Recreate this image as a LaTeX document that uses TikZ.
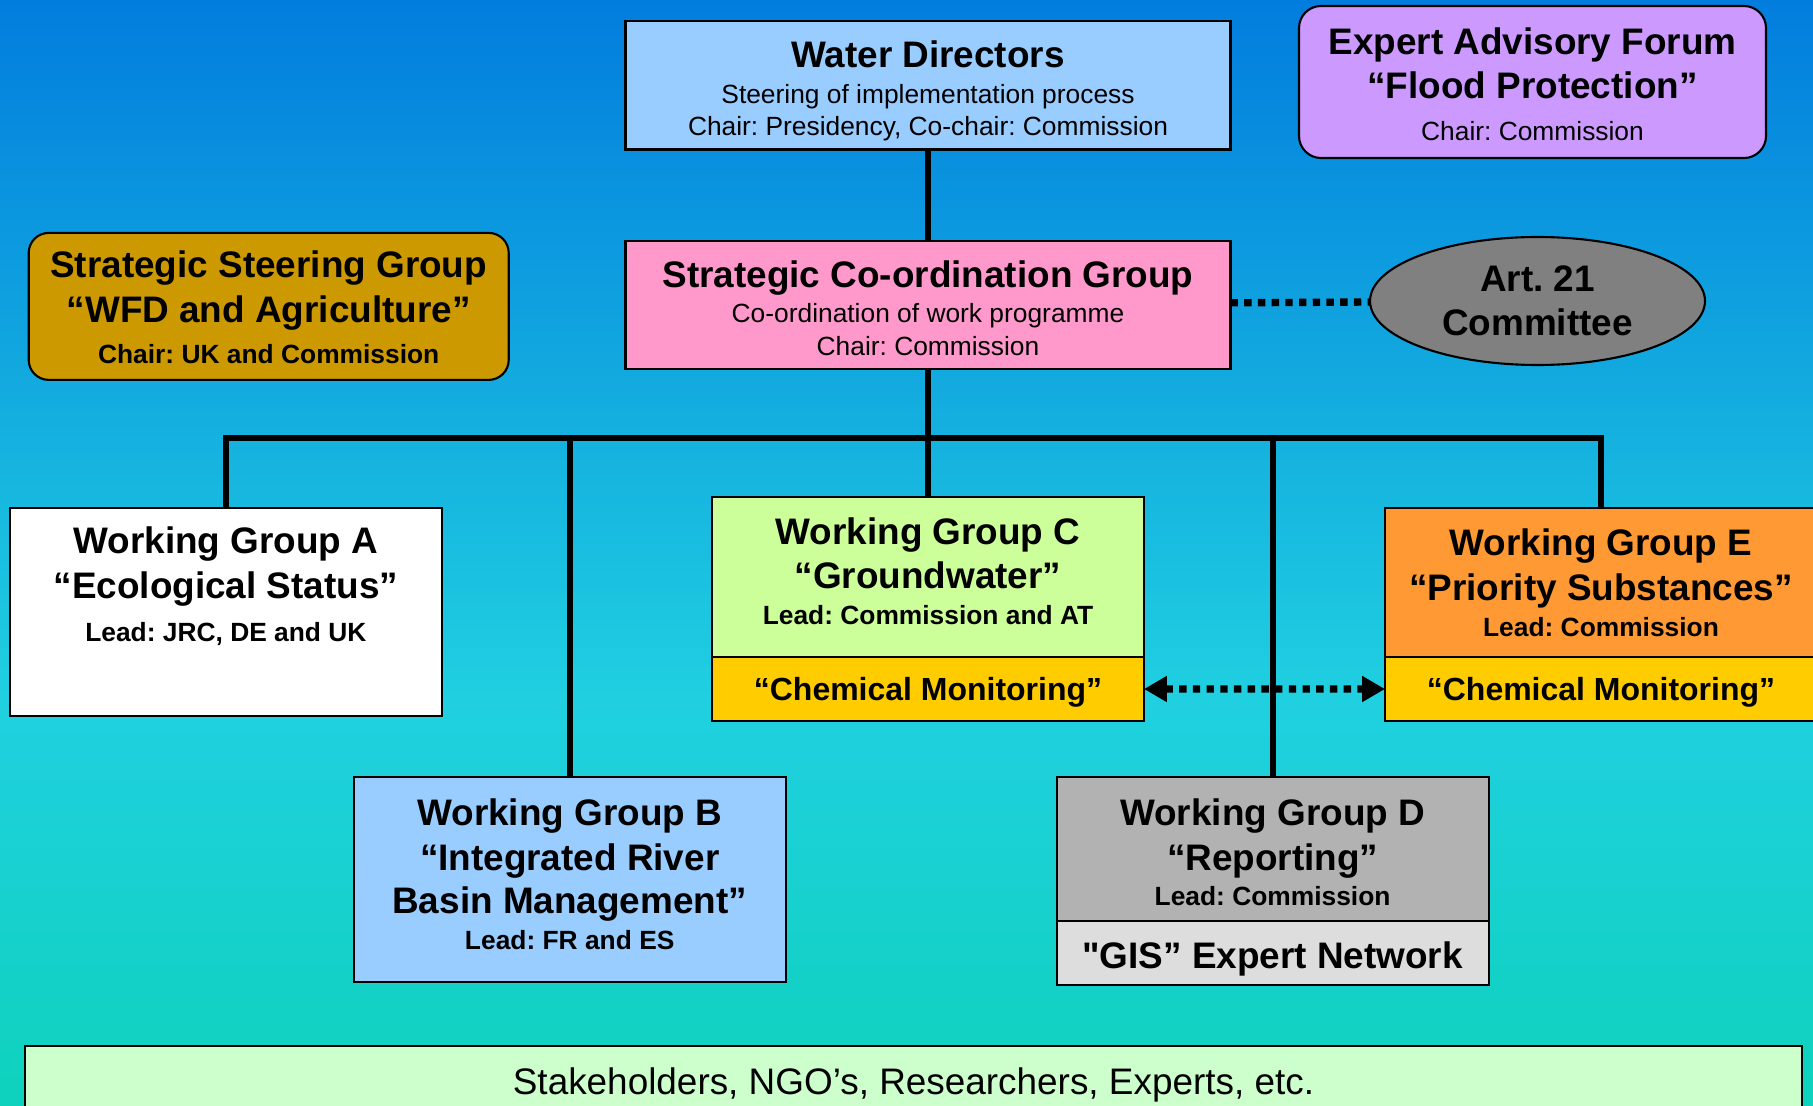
\documentclass[tikz,border=0pt]{standalone}
\usepackage{fontspec}
\setmainfont{Liberation Sans}[Ligatures=TeXOff]
\usetikzlibrary{calc,positioning,shapes.geometric,arrows.meta}
\frenchspacing

\definecolor{bgtop}{RGB}{2,125,222}
\definecolor{bgmid}{RGB}{32,208,224}
\definecolor{bgbottom}{RGB}{14,210,188}
\definecolor{wdblue}{HTML}{99CCFF}
\definecolor{scgpink}{HTML}{FF99CC}
\definecolor{ssggold}{HTML}{CC9900}
\definecolor{eafviolet}{HTML}{CC99FF}
\definecolor{artgray}{HTML}{808080}
\definecolor{wgcgreen}{HTML}{CCFF99}
\definecolor{monyellow}{HTML}{FFCC00}
\definecolor{wgdgray}{HTML}{B2B2B2}
\definecolor{gisgray}{HTML}{DDDDDD}
\definecolor{wgeorange}{HTML}{FF9933}
\definecolor{stkgreen}{HTML}{CCFFCC}

\newcommand{\boxtitle}{\fontsize{10.5pt}{12.8pt}\selectfont\bfseries}
\newcommand{\boxnote}{\fontsize{7.5pt}{9.2pt}\selectfont\mdseries}
\newcommand{\monfont}{\fontsize{9.1pt}{11pt}\selectfont\bfseries}
\newcommand{\stkfont}{\fontsize{10.5pt}{12.8pt}\selectfont}
% strut that pushes the text of a box down a little
\newcommand{\padtop}[1]{\rule{0pt}{#1}}

\tikzset{
  box/.style={draw=black, line width=0.6pt, outer sep=0pt, inner sep=2pt, align=center, font=\boxtitle},
  wgbox/.style={box, minimum width=4.32cm},
  monbox/.style={wgbox, minimum height=0.64cm, font=\monfont},
  link/.style={line width=1.7pt},
  dotlink/.style={line width=2.1pt, dash pattern=on 2.1pt off 1.8pt},
  tip/.tip={Triangle[length=6.5pt,width=7pt]}
}

\begin{document}
\begin{tikzpicture}
% page and background
\useasboundingbox (0,0) rectangle (18.13,-11.06);
\clip (0,0) rectangle (18.13,-11.06);
\shade[top color=bgtop, bottom color=bgmid] (0,0) rectangle (18.13,-7.01);
\shade[top color=bgmid, bottom color=bgbottom] (0,-7) rectangle (18.13,-11.06);
% top level
\node[box, fill=wdblue, minimum width=6.05cm, minimum height=1.285cm] (WD) at (9.28,-0.853)
  {\padtop{10.8pt}Water Directors\\[-2.7pt]{\boxnote Steering of implementation process}\\[-3.6pt]{\boxnote Chair: Presidency, Co-chair: Commission}};
\node[box, fill=scgpink, minimum width=6.05cm, minimum height=1.28cm] (SCG) at (9.28,-3.046)
  {\padtop{9.5pt}Strategic Co-ordination Group\\[-2.7pt]{\boxnote Co-ordination of work programme}\\[-3.5pt]{\boxnote Chair: Commission}};
\node[box, fill=ssggold, rounded corners=0.2cm, minimum width=4.8cm, minimum height=1.47cm] (SSG) at (2.687,-3.064)
  {\padtop{8pt}Strategic Steering Group\\“WFD and Agriculture”\\[-1pt]{\boxnote\bfseries Chair: UK and Commission}};
\node[box, fill=eafviolet, rounded corners=0.22cm, minimum width=4.67cm, minimum height=1.52cm] (EAF) at (15.325,-0.82)
  {\padtop{8.8pt}Expert Advisory Forum\\[-0.3pt]“Flood Protection”\\[-1pt]{\boxnote Chair: Commission}};
\node[box, ellipse, fill=artgray, inner sep=0pt, minimum width=3.35cm, minimum height=1.28cm] (ART) at (15.375,-3.01)
  {Art. 21\\[-0.3pt]Committee};
% working groups
\node[wgbox, fill=white, minimum height=2.08cm, text depth=15.7pt] (A) at (2.259,-6.12)
  {Working Group A\\“Ecological Status”\\[-0.6pt]{\boxnote\bfseries Lead: JRC, DE and UK}};
\node[wgbox, fill=wdblue, minimum height=2.047cm, text depth=3.3pt] (B) at (5.697,-8.797)
  {Working Group B\\“Integrated River\\[-0.3pt]Basin Management”\\[-2.7pt]{\boxnote\bfseries Lead: FR and ES}};
\node[wgbox, fill=wgcgreen, minimum height=1.6cm, text depth=3.3pt] (C) at (9.28,-5.77)
  {Working Group C\\[-0.3pt]“Groundwater”\\[-2.7pt]{\boxnote\bfseries Lead: Commission and AT}};
\node[monbox, fill=monyellow, below=0pt of C] (Cmon) {\padtop{8.5pt}“Chemical Monitoring”};
\node[wgbox, fill=wgdgray, minimum height=1.437cm] (D) at (12.726,-8.49)
  {\padtop{9.5pt}Working Group D\\“Reporting”\\[-3pt]{\boxnote\bfseries Lead: Commission}};
\node[monbox, fill=gisgray, font=\boxtitle, below=0pt of D] (Dgis) {\padtop{10.8pt}"GIS” Expert Network};
\node[wgbox, fill=wgeorange, minimum height=1.49cm] (E) at (16.01,-5.825)
  {Working Group E\\“Priority Substances”\\[-2.6pt]{\boxnote\bfseries Lead: Commission}};
\node[monbox, fill=monyellow, below=0pt of E] (Emon) {\padtop{8.5pt}“Chemical Monitoring”};
% stakeholders
\node[box, font=\stkfont, fill=stkgreen, minimum width=17.762cm, minimum height=0.78cm] (STK) at (9.135,-10.85)
  {Stakeholders, NGO’s, Researchers, Experts, etc.};
% links
\coordinate (bar) at (9.28,-4.384);
\draw[link] (WD) -- (SCG);
\draw[link] (SCG) -- (C);
\draw[link] (A.north) |- (bar) -| (E.north);
\draw[link] (B.north) -- (B.north |- bar);
\draw[link] (D.north) -- (D.north |- bar);
\draw[dotlink] (SCG) -- (ART);
\draw[dotlink, tip-tip] (Cmon) -- (Emon);
\end{tikzpicture}
\end{document}
